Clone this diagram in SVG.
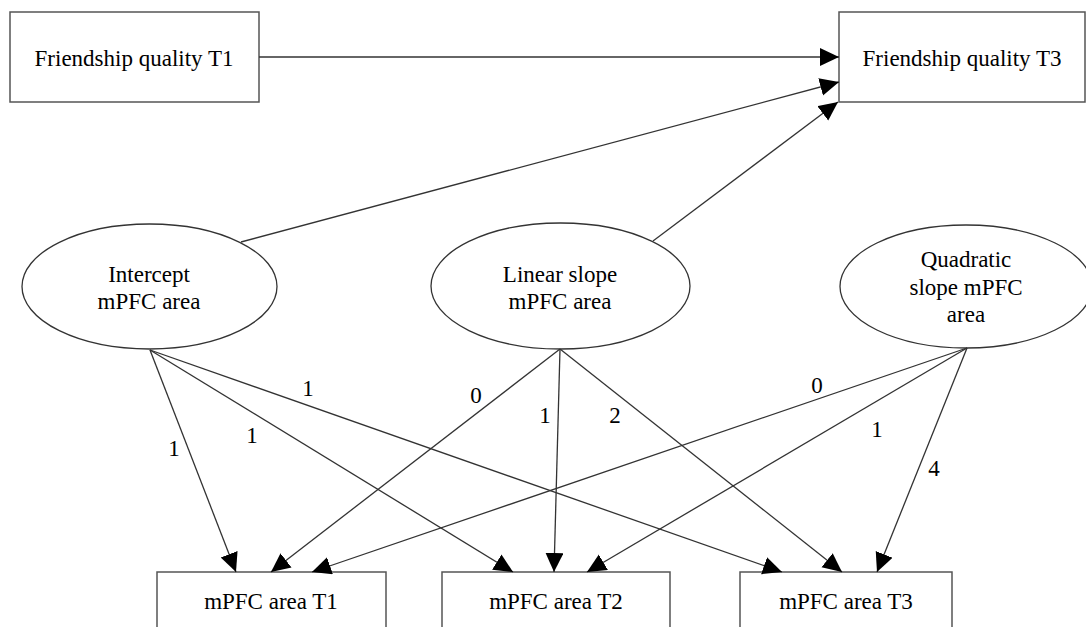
<svg xmlns="http://www.w3.org/2000/svg" width="1086" height="627" viewBox="0 0 1086 627">
<style>
.box{fill:#fff;stroke:#555;stroke-width:1.5}
.ell{fill:#fff;stroke:#333;stroke-width:1.3}
.t{font-family:"Liberation Serif","Times New Roman",serif;font-size:23px;fill:#000;text-anchor:middle}
.c{stroke:#333;stroke-width:1.3;fill:none;marker-end:url(#ah)}
</style>
<defs>
<marker id="ah" markerUnits="userSpaceOnUse" markerWidth="21" markerHeight="19" refX="19" refY="9" orient="auto">
<path d="M0,0 L19,9 L0,18 z" fill="#000"/>
</marker>
</defs>
<rect width="1086" height="627" fill="#fff"/>
<g id="fq1"><rect class="box" x="10" y="12" width="249" height="90"/><text class="t" x="134" y="66">Friendship quality T1</text></g>
<g id="fq3"><rect class="box" x="839" y="12" width="246" height="90"/><text class="t" x="962" y="66">Friendship quality T3</text></g>
<g id="intercept"><ellipse class="ell" cx="149.5" cy="286.5" rx="127.5" ry="62.5"/><text class="t" x="149" y="282">Intercept</text><text class="t" x="149" y="309">mPFC area</text></g>
<g id="linear"><ellipse class="ell" cx="560.5" cy="286" rx="129.5" ry="63"/><text class="t" x="560" y="282">Linear slope</text><text class="t" x="560" y="309">mPFC area</text></g>
<g id="quadratic"><ellipse class="ell" cx="966" cy="286.5" rx="126" ry="61.5"/><text class="t" x="966" y="267">Quadratic</text><text class="t" x="966" y="295">slope mPFC</text><text class="t" x="966" y="322">area</text></g>
<g id="m1"><rect class="box" x="157" y="572" width="229" height="70"/><text class="t" x="271" y="609">mPFC area T1</text></g>
<g id="m2"><rect class="box" x="442" y="572" width="228" height="70"/><text class="t" x="556" y="609">mPFC area T2</text></g>
<g id="m3"><rect class="box" x="740" y="572" width="212" height="70"/><text class="t" x="846" y="609">mPFC area T3</text></g>
<g id="connectors">
<line class="c" x1="259" y1="57" x2="839" y2="57"/>
<line class="c" x1="241" y1="242" x2="839" y2="82"/>
<line class="c" x1="653" y1="241" x2="838" y2="102"/>
<line class="c" x1="150" y1="350" x2="236" y2="572"/>
<line class="c" x1="150" y1="350" x2="513" y2="572"/>
<line class="c" x1="150" y1="350" x2="782" y2="572"/>
<line class="c" x1="560" y1="349" x2="271" y2="572"/>
<line class="c" x1="560" y1="349" x2="554" y2="572"/>
<line class="c" x1="560" y1="349" x2="842" y2="572"/>
<line class="c" x1="967" y1="348" x2="312" y2="572"/>
<line class="c" x1="967" y1="348" x2="587" y2="572"/>
<line class="c" x1="967" y1="348" x2="877" y2="572"/>
<text class="t" x="174" y="456">1</text>
<text class="t" x="252" y="443">1</text>
<text class="t" x="308" y="396">1</text>
<text class="t" x="476" y="403">0</text>
<text class="t" x="545" y="423">1</text>
<text class="t" x="615" y="423">2</text>
<text class="t" x="817" y="393">0</text>
<text class="t" x="877" y="437">1</text>
<text class="t" x="934" y="476">4</text>
</g>
</svg>
